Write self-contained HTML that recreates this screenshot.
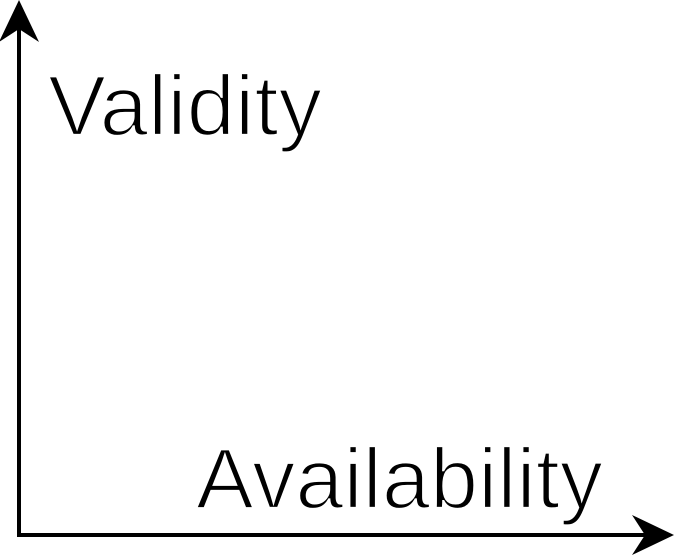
<!DOCTYPE html>
<html><head><meta charset="utf-8"><style>
html,body{margin:0;padding:0;background:#fff;}
svg{display:block;}
text{font-family:"Liberation Sans",sans-serif;font-size:85px;fill:#000;stroke:#fff;stroke-width:2.2px;paint-order:fill stroke;}
</style></head><body>
<svg width="674" height="556" viewBox="0 0 674 556" xmlns="http://www.w3.org/2000/svg">
<line x1="19" y1="28" x2="19" y2="537" stroke="#000" stroke-width="4"/>
<line x1="17" y1="535" x2="646" y2="535" stroke="#000" stroke-width="4"/>
<polygon points="19,0 39,42 19,29 -1,42" fill="#000"/>
<polygon points="674,535 632,515 645,535 632,555" fill="#000"/>
<text x="48" y="135" textLength="274" lengthAdjust="spacingAndGlyphs">Validity</text>
<text x="196" y="508" textLength="407" lengthAdjust="spacingAndGlyphs">Availability</text>
</svg>
</body></html>
